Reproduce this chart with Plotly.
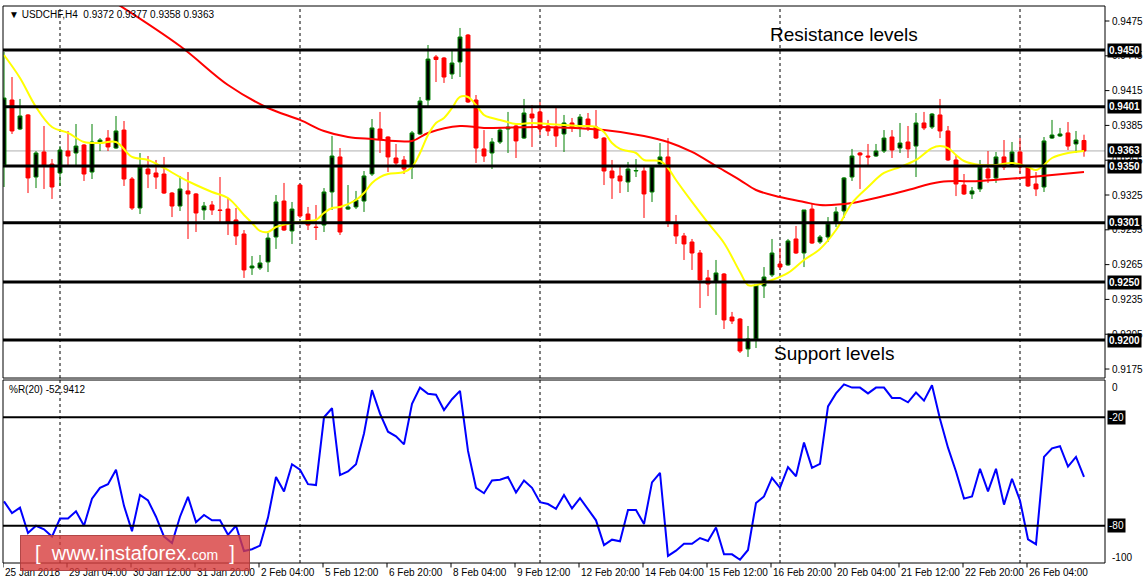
import plotly.graph_objects as go

# ---------------- data ----------------
opens = [0.93509,0.94069,0.93819,0.93940,0.93405,0.93621,0.93517,0.93440,0.93629,0.93612,
0.93681,0.93448,0.93698,0.93741,0.93655,0.93810,0.93388,0.93138,0.93474,0.93440,
0.93431,0.93267,0.93155,0.93285,0.93259,0.93121,0.93164,0.93121,0.93129,0.93035,
0.92914,0.92621,0.92621,0.92673,0.92888,0.93198,0.92940,0.93336,0.93086,0.92974,
0.92991,0.93276,0.93578,0.93129,0.93147,0.93198,0.93431,0.93819,0.93750,0.93569,
0.93552,0.93491,0.93776,0.94069,0.94440,0.94431,0.94293,0.94397,0.94629,0.94069,
0.93647,0.93612,0.93707,0.93819,0.93845,0.93741,0.93948,0.93966,0.93845,0.93836,
0.93776,0.93871,0.93836,0.93905,0.93836,0.93741,0.93457,0.93414,0.93362,0.93457,
0.93457,0.93276,0.93517,0.93578,0.93009,0.92897,0.92845,0.92750,0.92535,0.92500,
0.92569,0.92198,0.92181,0.91923,0.92009,0.92466,0.92561,0.92655,0.92647,0.92871,
0.92750,0.93129,0.92845,0.92888,0.93009,0.93112,0.93405,0.93612,0.93586,0.93586,
0.93629,0.93750,0.93655,0.93707,0.93672,0.93871,0.93836,0.93940,0.93802,0.93552,
0.93336,0.93259,0.93302,0.93474,0.93397,0.93578,0.93500,0.93621,0.93491,0.93345,
0.93319,0.93741,0.93759,0.93785,0.93690,0.9372]
highs = [0.94483,0.94267,0.94078,0.93948,0.93629,0.93845,0.93560,0.93672,0.93802,0.93862,
0.93690,0.93862,0.93741,0.93810,0.93931,0.93888,0.93405,0.93612,0.93586,0.93552,
0.93578,0.93276,0.93414,0.93448,0.93267,0.93190,0.93198,0.93405,0.93224,0.93138,
0.92948,0.92724,0.92733,0.92923,0.93250,0.93354,0.93190,0.93345,0.93147,0.93164,
0.93310,0.93759,0.93655,0.93336,0.93285,0.93457,0.93905,0.93966,0.93756,0.93690,
0.93586,0.93802,0.94095,0.94543,0.94457,0.94440,0.94509,0.94690,0.94638,0.94112,
0.93810,0.93741,0.93836,0.93966,0.93853,0.94078,0.94026,0.94052,0.93897,0.94000,
0.93940,0.93914,0.93948,0.93957,0.93983,0.93750,0.93552,0.93491,0.93535,0.93560,
0.93500,0.93500,0.93698,0.93741,0.93078,0.92923,0.92871,0.92776,0.92604,0.92690,
0.92578,0.92242,0.92190,0.92121,0.92474,0.92629,0.92871,0.92793,0.92871,0.92983,
0.93121,0.93181,0.92905,0.93060,0.93147,0.93405,0.93647,0.93621,0.93690,0.93690,
0.93810,0.93810,0.93871,0.93845,0.93957,0.93966,0.93957,0.94078,0.93845,0.93595,
0.93431,0.93319,0.93552,0.93629,0.93621,0.93724,0.93707,0.93741,0.93500,0.93448,
0.93750,0.93897,0.93828,0.93879,0.93802,0.9377]
lows = [0.93319,0.93776,0.93810,0.93267,0.93310,0.93302,0.93216,0.93328,0.93500,0.93509,
0.93371,0.93388,0.93629,0.93629,0.93647,0.93328,0.93121,0.93086,0.93310,0.93302,
0.93259,0.93060,0.93112,0.92871,0.92931,0.93035,0.93078,0.93017,0.92905,0.92819,
0.92535,0.92561,0.92604,0.92586,0.92785,0.92940,0.92828,0.93052,0.92948,0.92862,
0.92931,0.93121,0.92905,0.93121,0.93129,0.93104,0.93414,0.93612,0.93448,0.93491,
0.93431,0.93388,0.93767,0.94017,0.94224,0.94216,0.94250,0.94267,0.94043,0.93526,
0.93535,0.93474,0.93690,0.93612,0.93569,0.93733,0.93664,0.93767,0.93759,0.93664,
0.93621,0.93793,0.93750,0.93802,0.93733,0.93336,0.93216,0.93267,0.93276,0.93405,
0.93052,0.93190,0.93500,0.92974,0.92828,0.92690,0.92604,0.92276,0.92379,0.92216,
0.92095,0.92138,0.91888,0.91854,0.91931,0.92362,0.92543,0.92604,0.92640,0.92742,
0.92629,0.92828,0.92828,0.92845,0.92974,0.93052,0.93371,0.93302,0.93509,0.93578,
0.93612,0.93569,0.93612,0.93569,0.93405,0.93810,0.93819,0.93741,0.93543,0.93241,
0.93250,0.93216,0.93276,0.93354,0.93354,0.93466,0.93491,0.93440,0.93319,0.93241,
0.93276,0.93733,0.93750,0.93638,0.93612,0.9358]
closes = [0.94086,0.93802,0.93931,0.93397,0.93612,0.93500,0.93319,0.93638,0.93586,0.93672,
0.93431,0.93707,0.93724,0.93664,0.93802,0.93388,0.93138,0.93491,0.93431,0.93405,
0.93267,0.93155,0.93302,0.93259,0.93095,0.93155,0.93121,0.93117,0.93017,0.92897,
0.92604,0.92638,0.92664,0.92879,0.93190,0.92948,0.93129,0.93069,0.92991,0.92970,
0.93276,0.93586,0.92931,0.93147,0.93207,0.93414,0.93828,0.93733,0.93578,0.93526,
0.93474,0.93785,0.94060,0.94422,0.94418,0.94267,0.94388,0.94612,0.94052,0.93655,
0.93586,0.93707,0.93810,0.93836,0.93716,0.93957,0.93914,0.93819,0.93802,0.93759,
0.93871,0.93836,0.93922,0.93836,0.93741,0.93457,0.93397,0.93371,0.93474,0.93461,
0.93259,0.93500,0.93578,0.93009,0.92897,0.92828,0.92750,0.92517,0.92483,0.92578,
0.92173,0.92164,0.91905,0.92009,0.92474,0.92543,0.92750,0.92629,0.92854,0.92750,
0.93121,0.92836,0.92888,0.93009,0.93104,0.93397,0.93586,0.93595,0.93578,0.93629,
0.93741,0.93638,0.93698,0.93647,0.93871,0.93828,0.93948,0.93802,0.93552,0.93345,
0.93259,0.93285,0.93491,0.93397,0.93578,0.93491,0.93621,0.93491,0.93328,0.93302,
0.93716,0.93767,0.93776,0.93672,0.93724,0.9363]

ma_fast_idx = [0,2,4,6,8,10,12,14,16,18,20,22,24,26,28,30,31,32,33,34,36,38,39,40,41,42,44,45,46,47,48,50,51,52,
53,54,55,56,57,58,59,60,61,62,64,66,68,70,72,74,75,76,77,78,79,80,82,83,84,86,88,90,92,93,94,96,98,100,102,104,
106,108,110,112,114,116,117,118,119,120,122,124,126,128,129,130,131,133,135]
ma_fast_val = [0.94457,0.94259,0.94009,0.93836,0.93785,0.93707,0.93698,0.93707,0.93578,0.93552,0.93483,0.93405,
0.93336,0.93276,0.93224,0.93078,0.93009,0.92940,0.92931,0.92974,0.93009,0.93026,0.93035,0.93095,0.93138,0.93147,
0.93207,0.93267,0.93354,0.93405,0.93431,0.93448,0.93491,0.93612,0.93767,0.93871,0.93914,0.94000,0.94095,0.94095,
0.94026,0.93940,0.93914,0.93897,0.93862,0.93871,0.93862,0.93853,0.93845,0.93836,0.93793,0.93698,0.93647,0.93629,
0.93612,0.93552,0.93543,0.93483,0.93379,0.93190,0.93009,0.92836,0.92586,0.92474,0.92474,0.92517,0.92578,0.92690,
0.92785,0.92948,0.93181,0.93319,0.93440,0.93491,0.93552,0.93655,0.93672,0.93655,0.93595,0.93543,0.93509,0.93509,
0.93526,0.93491,0.93466,0.93509,0.93569,0.93612,0.93629]

ma_slow_idx = [13,22,28,33,37,40,43,46,51,53,57,60,67,75,80,83,86,89,92,94,97,100,102,106,110,113,117,122,127,131,135]
ma_slow_val = [0.94948,0.94534,0.94198,0.94000,0.93897,0.93802,0.93750,0.93733,0.93716,0.93785,0.93845,0.93828,
0.93836,0.93810,0.93759,0.93707,0.93621,0.93500,0.93379,0.93293,0.93233,0.93190,0.93164,0.93181,0.93241,0.93293,
0.93362,0.93371,0.93397,0.93422,0.93448]

wpr = [-66.5,-73,-70,-84,-80,-82,-86,-76,-76,-72,-80,-65,-59,-57,-49,-69,-83,-63,-66,-75,
-86,-89.5,-75,-64,-78,-74,-77,-77,-85,-80,-94,-93,-91,-75.5,-53,-61,-46,-49,-57,-57.5,
-20,-15,-52,-50,-46,-29,-5,-18,-28,-30.5,-35,-12.5,-3.6,-7,-7.5,-16,-10,-5.4,-38.6,-59,
-62,-55,-54.5,-53,-61.6,-55,-59,-67,-68,-70.6,-63,-70.4,-64.7,-70.6,-77,-90.7,-87.7,-88.6,-71.3,-71.3,
-79,-56,-50.7,-96.7,-93.8,-90,-90,-86.8,-88.4,-81,-95.8,-95.8,-98.8,-93.4,-67.4,-63.8,-53.5,-59,-47.6,-52.6,
-34,-48,-45.8,-14,-6.8,-1.8,-3.6,-3.6,-6.8,-3.6,-3.6,-9.3,-9.3,-11.7,-6.3,-10.8,-2.3,-21,-36.8,-50,
-65,-63.8,-48.5,-61,-48.5,-68.3,-54,-66,-87.5,-90.2,-41.9,-37.2,-36,-47.3,-41.9,-52.9]

levels = [0.9450, 0.9401, 0.9350, 0.9301, 0.9250, 0.9200]
level_labels = ["0.9450", "0.9401", "0.9350", "0.9301", "0.9250", "0.9200"]
price_ticks = [0.9475, 0.9445, 0.9415, 0.9385, 0.9355, 0.9325, 0.9295, 0.9265, 0.9235, 0.9205, 0.9175]
last_price = 0.9363
wpr_levels = [-20, -80]
wpr_ticks = [0, -100]
date_labels = ["25 Jan 2018", "29 Jan 04:00", "30 Jan 12:00", "31 Jan 20:00", "2 Feb 04:00", "5 Feb 12:00",
               "6 Feb 20:00", "8 Feb 04:00", "9 Feb 12:00", "12 Feb 20:00", "14 Feb 04:00", "15 Feb 12:00",
               "16 Feb 20:00", "20 Feb 04:00", "21 Feb 12:00", "22 Feb 20:00", "26 Feb 04:00"]
date_label_idx = [8 * k - 0.125 for k in range(len(date_labels))]
day_sep_idx = [7, 37, 67, 97, 127]

idx = list(range(len(opens)))
FONT = "Liberation Sans"
SMALL = 10

fig = go.Figure()
fig.add_trace(go.Candlestick(x=idx, open=opens, high=highs, low=lows, close=closes,
    increasing=dict(line=dict(color="#008000", width=1), fillcolor="black"),
    decreasing=dict(line=dict(color="red", width=1), fillcolor="red"),
    whiskerwidth=0, xaxis="x", yaxis="y", showlegend=False, hoverinfo="skip"))
fig.add_trace(go.Scatter(x=ma_slow_idx, y=ma_slow_val, mode="lines", line=dict(color="red", width=2, shape="spline"),
                         xaxis="x", yaxis="y", showlegend=False))
fig.add_trace(go.Scatter(x=ma_fast_idx, y=ma_fast_val, mode="lines", line=dict(color="yellow", width=2, shape="spline"),
                         xaxis="x", yaxis="y", showlegend=False))
fig.add_trace(go.Scatter(x=idx, y=wpr, mode="lines", line=dict(color="blue", width=2),
                         xaxis="x2", yaxis="y2", showlegend=False))

XR = [-0.125, 137.625]
fig.update_layout(
    width=1147, height=585, margin=dict(l=3, r=42, t=6, b=22),
    paper_bgcolor="white", plot_bgcolor="white",
    xaxis=dict(domain=[0, 1], range=XR, showticklabels=False, showgrid=False, zeroline=False,
               rangeslider=dict(visible=False), anchor="y"),
    yaxis=dict(domain=[0.3321, 1], range=[0.916724, 0.948793], showticklabels=False, showgrid=False, zeroline=False),
    xaxis2=dict(domain=[0, 1], range=XR, showticklabels=False, showgrid=False, zeroline=False, anchor="y2"),
    yaxis2=dict(domain=[0, 0.3285], range=[-100.6, 0.6], showticklabels=False, showgrid=False, zeroline=False),
    font=dict(family=FONT, size=SMALL, color="black"),
)

shapes = []
for ax, ay in (("x", "y"), ("x2", "y2")):
    shapes.append(dict(type="rect", xref=ax + " domain", yref=ay + " domain", x0=0, x1=1, y0=0, y1=1,
                       line=dict(color="black", width=1)))
    for d in day_sep_idx:
        shapes.append(dict(type="line", xref=ax, yref=ay + " domain", x0=d, x1=d, y0=0, y1=1,
                           line=dict(color="black", width=1, dash="3px,3px"), layer="below"))
shapes.append(dict(type="line", xref="x domain", yref="y", x0=0, x1=1, y0=last_price, y1=last_price,
                   line=dict(color="#b0b0b0", width=1), layer="below"))
for lv in levels:
    shapes.append(dict(type="line", xref="x domain", yref="y", x0=0, x1=1, y0=lv, y1=lv,
                       line=dict(color="black", width=3)))
for lv in wpr_levels:
    shapes.append(dict(type="line", xref="x2 domain", yref="y2", x0=0, x1=1, y0=lv, y1=lv,
                       line=dict(color="black", width=2)))
for t in date_label_idx:
    shapes.append(dict(type="line", xref="x2", yref="paper", x0=t, x1=t, y0=0, y1=-0.008,
                       line=dict(color="black", width=1)))
for p in price_ticks:
    shapes.append(dict(type="line", xref="paper", yref="y", x0=1, x1=1.004, y0=p, y1=p,
                       line=dict(color="black", width=1)))
fig.update_layout(shapes=shapes)

ann = []
for t, lab in zip(date_label_idx, date_labels):
    ann.append(dict(x=t, xref="x2", y=0, yref="paper", yshift=-2, text=lab, showarrow=False,
                    xanchor="left", yanchor="top", font=dict(size=SMALL)))
for p in price_ticks:
    ann.append(dict(x=1, xref="paper", y=p, yref="y", xshift=5, text=f"{p:.4f}", showarrow=False,
                    xanchor="left", yanchor="middle", font=dict(size=SMALL)))
for lv, lab in zip(levels + [last_price], level_labels + ["0.9363"]):
    ann.append(dict(x=1, xref="paper", y=lv, yref="y", xshift=2, text="<b>" + lab + "</b>", showarrow=False,
                    xanchor="left", yanchor="middle", bgcolor="black", font=dict(size=SMALL, color="white"),
                    borderpad=1))
for v in wpr_ticks:
    ann.append(dict(x=1, xref="paper", y=v, yref="y2", xshift=5, yshift=(-6 if v == 0 else 4), text=str(v),
                    showarrow=False, xanchor="left", yanchor="middle", font=dict(size=SMALL)))
for v in wpr_levels:
    ann.append(dict(x=1, xref="paper", y=v, yref="y2", xshift=2, text=str(v), showarrow=False,
                    xanchor="left", yanchor="middle", bgcolor="black", font=dict(size=SMALL, color="white"),
                    borderpad=1))
ann.append(dict(x=0.004, xref="paper", y=1, yref="paper", yshift=-1, showarrow=False, xanchor="left", yanchor="top",
                text="▼ USDCHF,H4  0.9372 0.9377 0.9358 0.9363", font=dict(size=SMALL)))
ann.append(dict(x=0.004, xref="paper", y=0.3285, yref="paper", yshift=-2, showarrow=False, xanchor="left",
                yanchor="top", text="%R(20) -52.9412", font=dict(size=SMALL)))
ann.append(dict(x=95.5, xref="x", y=0.9453, yref="y", showarrow=False, xanchor="left", yanchor="bottom",
                text="Resistance levels", font=dict(size=19)))
ann.append(dict(x=96, xref="x", y=0.9188, yref="y", showarrow=False, xanchor="left", yanchor="middle",
                text="Support levels", font=dict(size=19)))
ann.append(dict(x=0.015, xref="paper", y=-0.014, yref="paper", showarrow=False, xanchor="left", yanchor="bottom",
                text="[  www.instaforex.<span style='font-size:14px'>com</span>  ]",
                font=dict(size=20, color="white"),
                bgcolor="rgba(215,60,60,0.8)", bordercolor="rgba(170,60,60,0.9)", borderwidth=1, borderpad=3,
                width=222, height=28))
fig.update_layout(annotations=ann)

fig.write_html("out.html", config={"displayModeBar": False},
               post_script="document.body.style.margin='0';document.body.style.overflow='hidden';")
